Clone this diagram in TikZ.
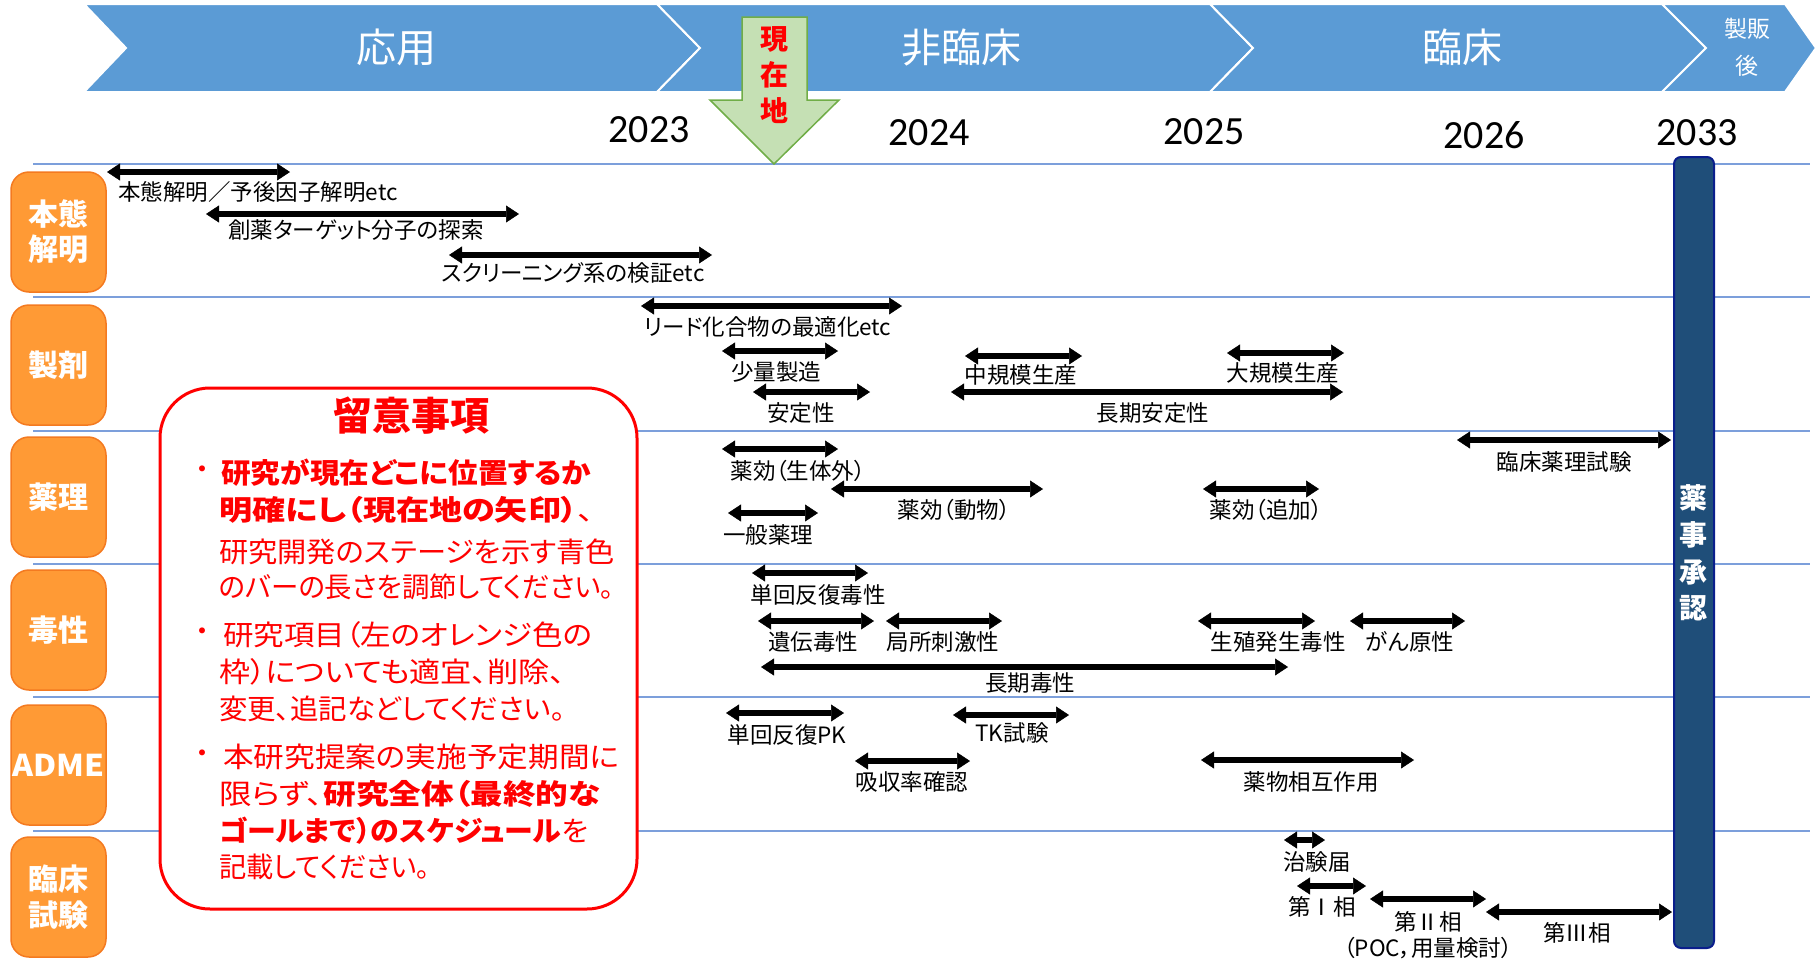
\documentclass[tikz,border=0pt]{standalone}
\usepackage{fontspec}
\usepackage{graphicx}
\usetikzlibrary{arrows.meta}
\setmainfont{Noto Sans CJK JP}
\newfontfamily\jpfont{Noto Sans CJK JP}
\newfontfamily\jppfont[RawFeature=+palt]{Noto Sans CJK JP}
\newfontfamily\yearfont{Carlito}
\definecolor{banner}{HTML}{5B9BD5}
\definecolor{hline}{HTML}{7C9FDB}
\definecolor{orfill}{HTML}{FF9A35}
\definecolor{ordraw}{HTML}{F47A20}
\definecolor{navyfill}{HTML}{1F4E79}
\definecolor{navydraw}{HTML}{0A1E8C}
\definecolor{gfill}{HTML}{C5E0B4}
\definecolor{gdraw}{HTML}{70AD47}
\tikzset{
  garrow/.style={line width=5.5pt,
    {Triangle[length=13pt,width=17pt,line width=0.5pt]}-{Triangle[length=13pt,width=17pt,line width=0.5pt]}},
  glabel/.style={inner sep=0pt, align=center, font=\jppfont\fontsize{22.5}{26}\selectfont},
  chev/.style={fill=banner, draw=white, line width=2pt, line join=miter},
  bantext/.style={inner sep=0pt, text=white, align=center, font=\jpfont\fontsize{40}{46}\selectfont},
  yeartext/.style={inner sep=0pt, font=\yearfont\fontsize{40}{46}\selectfont},
  hl/.style={draw=hline, line width=2pt},
  rowbox/.style={draw=ordraw, fill=orfill, line width=1.5pt, rounded corners=18pt,
    minimum width=95pt, minimum height=120pt, inner sep=0pt, text=white, align=center,
    font=\jpfont\bfseries\fontsize{30}{36}\selectfont},
  notebox/.style={draw=red, fill=white, line width=3pt, rounded corners=50pt,
    minimum width=477pt, minimum height=521pt, inner sep=0pt},
  notetext/.style={anchor=west, inner sep=0pt, text=red, font=\jppfont\fontsize{28}{32}\selectfont},
  bullettext/.style={inner sep=0pt, text=red, font=\jpfont\fontsize{28}{32}\selectfont},
}
\newcommand\gbar[7]{%
  \coordinate (#1l) at (#2,#4);
  \coordinate (#1r) at (#3,#4);
  \draw[garrow] (#1l) -- (#1r);
  \node[glabel] (#1) at (#5,#6) {#7};}
\newcommand\nline[5]{%
  \node[notetext] (#1) at (#2,#3) {\resizebox{#4pt}{\height}{#5}};}
\begin{document}
\begin{tikzpicture}[x=1pt,y=-1pt]
\useasboundingbox (0,0) rectangle (1816,961);
% banner
\path[chev] (84,4) -- (657,4) -- (700,48) -- (657,92) -- (84,92) -- (126,48) -- cycle;
\path[chev] (657,4) -- (1210,4) -- (1253,48) -- (1210,92) -- (657,92) -- (700,48) -- cycle;
\path[chev] (1210,4) -- (1662,4) -- (1706,48) -- (1662,92) -- (1210,92) -- (1253,48) -- cycle;
\path[chev] (1662,4) -- (1785,4) -- (1816,48) -- (1785,92) -- (1662,92) -- (1706,48) -- cycle;
\node[bantext] (app) at (396,47) {応用};
\node[bantext] (nonclin) at (961,47) {非臨床};
\node[bantext] (clin) at (1462,47) {臨床};
\node[bantext, font=\jpfont\fontsize{23}{37}\selectfont] (post) at (1747,47.5) {製販\\後};
% horizontal lines
\foreach \yy in {164,297,431,564,697,831} {\draw[hl] (33,\yy) -- (1810,\yy);}
% years
\node[yeartext] (y23) at (649,130) {2023};
\node[yeartext] (y24) at (929,133) {2024};
\node[yeartext] (y25) at (1204,132) {2025};
\node[yeartext] (y26) at (1484,135) {2026};
\node[yeartext] (y33) at (1697,133) {2033};
% current position arrow
\draw[fill=gfill, draw=gdraw, line width=1.5pt, line join=miter]
  (742,17) -- (807,17) -- (807,100) -- (839,100) -- (774,164) -- (710,100) -- (742,100) -- cycle;
\node[inner sep=0pt, text=red, align=center, font=\jpfont\bfseries\fontsize{28}{36}\selectfont] (now) at (774,75.5) {現\\在\\地};
% row boxes
\node[rowbox, font=\jpfont\bfseries\fontsize{30}{35}\selectfont] (r1) at (58.5,232) {本態\\解明};
\node[rowbox] (r2) at (58.5,365) {製剤};
\node[rowbox] (r3) at (58.5,497) {薬理};
\node[rowbox] (r4) at (58.5,630) {毒性};
\node[rowbox] (r5) at (58.5,765) {\resizebox{92pt}{\height}{ADME}};
\node[rowbox] (r6) at (58.5,897) {臨床\\試験};
% note box
\node[notebox] (note) at (398.5,648.5) {};
\node[inner sep=0pt, text=red, font=\jpfont\bfseries\fontsize{39}{44}\selectfont] (notetitle) at (411,416) {留意事項};
\node[bullettext] (bu1) at (202,473) {・};
\nline{n1}{221}{473}{370}{\bfseries 研究が現在どこに位置するか}
\nline{n2}{219}{510}{375}{{\bfseries 明確にし（現在地の矢印）}、}
\nline{n3}{219}{552}{396}{研究開発のステージを示す青色}
\nline{n4}{219}{587}{395}{のバーの長さを調節してください。}
\node[bullettext] (bu2) at (202,635) {・};
\nline{n5}{223}{635}{369}{研究項目（左のオレンジ色の}
\nline{n6}{219}{672}{346}{枠）についても適宜、削除、}
\nline{n7}{219}{709}{346}{変更、追記などしてください。}
\node[bullettext] (bu3) at (202,757) {・};
\nline{n8}{223}{757}{396}{本研究提案の実施予定期間に}
\nline{n9}{219}{794}{381}{限らず、{\bfseries 研究全体（最終的な}}
\nline{n10}{219}{831}{369}{{\bfseries ゴールまで）のスケジュール}を}
\nline{n11}{219}{867}{211}{記載してください。}
% schedule bars
\gbar{b1}{107}{290}{172}{258}{192}{本態解明／予後因子解明etc}
\gbar{b2}{206}{519}{214}{356}{230}{創薬ターゲット分子の探索}
\gbar{b3}{449}{712}{255}{573}{273}{スクリーニング系の検証etc}
\gbar{c1}{641}{902}{306}{768}{327}{リード化合物の最適化etc}
\gbar{c2}{722}{838}{351}{776}{372}{少量製造}
\gbar{c3}{753}{870}{392}{801}{413}{安定性}
\gbar{c4}{965}{1082}{356}{1021}{375}{中規模生産}
\gbar{c5}{1227}{1344}{353}{1283}{373}{大規模生産}
\gbar{c6}{951}{1343}{392}{1153}{413}{長期安定性}
\gbar{d1}{1457}{1671}{440}{1564}{462}{臨床薬理試験}
\gbar{d2}{722}{838}{449}{798}{471}{薬効（生体外）}
\gbar{d3}{831}{1043}{489}{954}{510}{薬効（動物）}
\gbar{d4}{728}{818}{513}{768}{535}{一般薬理}
\gbar{d5}{1203}{1319}{489}{1266}{510}{薬効（追加）}
\gbar{e1}{752}{868}{573}{818}{595}{単回反復毒性}
\gbar{e2}{758}{874}{621}{813}{642}{遺伝毒性}
\gbar{e3}{886}{1002}{621}{943}{642}{局所刺激性}
\gbar{e4}{1198}{1315}{621}{1278}{642}{生殖発生毒性}
\gbar{e5}{1350}{1465}{621}{1410}{642}{がん原性}
\gbar{e6}{761}{1288}{667}{1030}{683}{長期毒性}
\gbar{f1}{726}{844}{713}{787}{735}{単回反復PK}
\gbar{f2}{953}{1069}{715}{1012}{733}{TK試験}
\gbar{f3}{855}{970}{761}{912}{782}{吸収率確認}
\gbar{f4}{1201}{1414}{760}{1311}{782}{薬物相互作用}
\gbar{g1}{1284}{1325}{840}{1317}{862}{治験届}
\gbar{g2}{1297}{1366}{886}{1322}{907}{第Ⅰ相}
\gbar{g3}{1370}{1486}{899}{1428}{935}{第Ⅱ相\\（POC，用量検討）}
\gbar{g4}{1486}{1672}{912}{1577}{933}{第Ⅲ相}
% approval bar
\node[draw=navydraw, fill=navyfill, line width=2pt, rounded corners=7pt,
  minimum width=40pt, minimum height=791pt, inner sep=0pt] (approval) at (1694,552.5) {};
\node[inner sep=0pt, text=white, align=center, font=\jpfont\bfseries\fontsize{28}{36.7}\selectfont] (approvaltext) at (1693,553) {薬\\事\\承\\認};
\end{tikzpicture}
\end{document}
